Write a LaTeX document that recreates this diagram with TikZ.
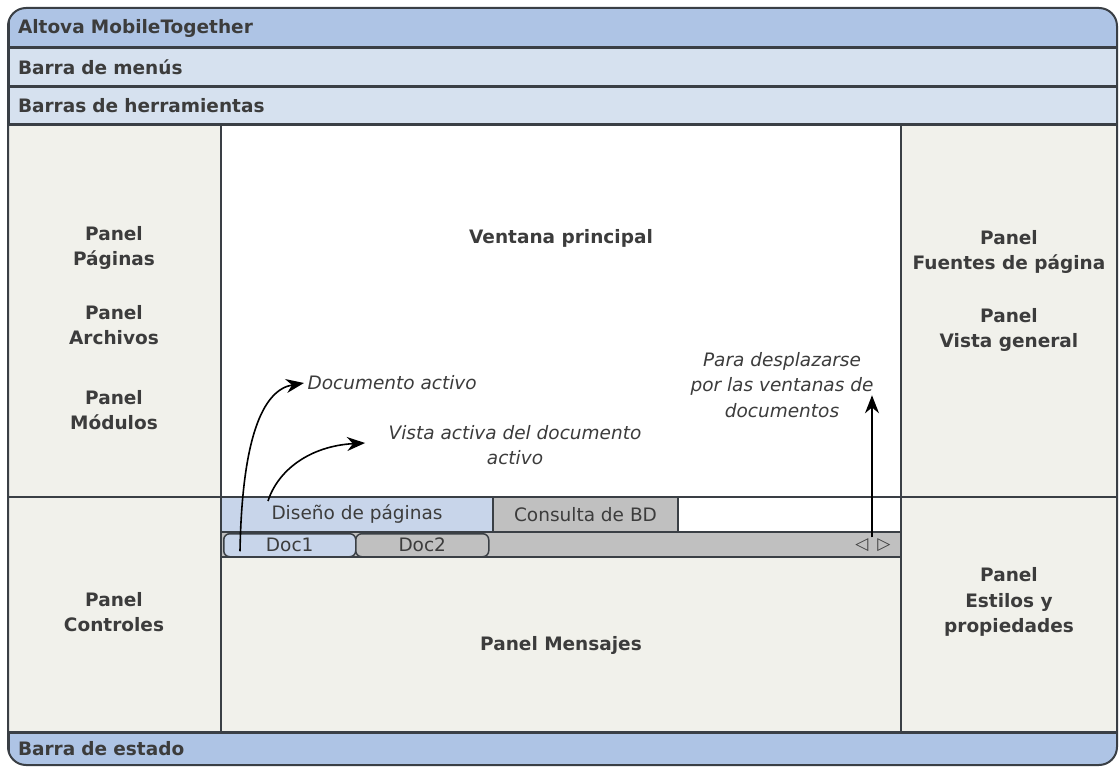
\documentclass[tikz,border=0pt]{standalone}
\usepackage{fontspec}
\setmainfont{DejaVu Sans}
\usetikzlibrary{arrows.meta, positioning, calc}

\definecolor{azul}{HTML}{AEC4E5}
\definecolor{azulclaro}{HTML}{D6E1EF}
\definecolor{pestana}{HTML}{C8D5EA}
\definecolor{gris}{HTML}{C0C0C0}
\definecolor{fondopanel}{HTML}{F1F1EB}
\definecolor{borde}{HTML}{3A3F45}
\definecolor{texto}{HTML}{3C3C3C}

\begin{document}
\begin{tikzpicture}[
		x=1pt, y=-1pt,
		every node/.style={font=\fontsize{18.5}{25.5}\selectfont, text=texto},
		zona/.style={draw=borde, line width=1.5pt, anchor=north west, inner sep=0pt, outer sep=0pt},
		barra/.style={zona, line width=3pt, text width=1089pt, inner xsep=10pt, align=left, minimum width=1109pt, font=\bfseries\fontsize{18.5}{25.5}\selectfont},
		etiq/.style={font=\bfseries\fontsize{18.5}{25.5}\selectfont, align=center},
		nota/.style={font=\itshape\fontsize{18.5}{25.5}\selectfont, align=center},
		tab/.style={zona, minimum height=35pt},
		doctab/.style={draw=borde, line width=1.5pt, rounded corners=6pt, anchor=north west, inner sep=0pt, minimum height=23pt},
		arrow/.style={line width=1.6pt, -{Stealth[length=18pt, width=14pt, fill=black]}, draw=black}
		]
		\useasboundingbox (0,0) rectangle (1120,767);
		
		% Barras y paneles
		\begin{scope}
			\clip[rounded corners=18pt] (8,8) rectangle (1117,765);
			\node[zona, fill=fondopanel, minimum width=213pt, minimum height=372pt] (izq) at (8,125) {};
			\node[zona, fill=fondopanel, minimum width=213pt, minimum height=235pt] (izqinf) at (8,497) {};
			\node[zona, fill=white, minimum width=680pt, minimum height=372pt] (principal) at (221,125) {};
			\node[zona, fill=fondopanel, minimum width=216pt, minimum height=372pt] (der) at (901,125) {};
			\node[zona, fill=fondopanel, minimum width=216pt, minimum height=235pt] (derinf) at (901,497) {};
			\node[zona, fill=fondopanel, minimum width=680pt, minimum height=175pt] (mensajes) at (221,557) {};
			\node[barra, fill=azul, minimum height=40pt] (titulo) at (8,8) {Altova MobileTogether};
			\node[barra, fill=azulclaro, minimum height=39pt] (menus) at (8,48) {Barra de menús};
			\node[barra, fill=azulclaro, minimum height=38pt] (herramientas) at (8,87) {Barras de herramientas};
			\node[barra, fill=azul, minimum height=33pt] (estado) at (8,732) {Barra de estado};
		\end{scope}
		\draw[borde, line width=2pt, rounded corners=18pt] (8,8) rectangle (1117,765);
		
		% Pestanas
		\node[tab, fill=pestana, minimum width=272pt] (diseno) at (221,497) {Diseño de páginas};
		\node[tab, fill=gris, minimum width=185pt] (consulta) at (493,497) {Consulta de BD};
		\node[tab, fill=white, minimum width=223pt] (vacio) at (678,497) {};
		\node[zona, fill=gris, minimum width=680pt, minimum height=25pt] (docs) at (221,532) {};
		\node[doctab, fill=pestana, minimum width=132pt] (doc1) at (223,533) {Doc1};
		\node[doctab, fill=gris, minimum width=133pt] (doc2) at (355,533) {Doc2};
		\node[font=\fontsize{17}{17}\selectfont, inner sep=1pt] (scroll) at (873,545) {◁\hspace{9pt}▷};
		
		% Textos
		\node[etiq] (ventana) at (561,238) {Ventana principal};
		\node[etiq] (paginas) at (114,248) {Panel\\Páginas};
		\node[etiq] (archivos) at (114,325) {Panel\\Archivos};
		\node[etiq] (modulos) at (114,410) {Panel\\Módulos};
		\node[etiq] (controles) at (114,612) {Panel\\Controles};
		\node[etiq] (fuentes) at (1009,252) {Panel\\Fuentes de página};
		\node[etiq] (vistagen) at (1009,330) {Panel\\Vista general};
		\node[etiq] (estilos) at (1009,602) {Panel\\Estilos y\\propiedades};
		\node[etiq] (panelmsj) at (561,645) {Panel Mensajes};
		\node[nota, anchor=west] (docactivo) at (304,383) {Documento activo};
		\node[nota] (vista) at (515,445) {Vista activa del documento\\activo};
		\node[nota] (desplazar) at (782,385) {Para desplazarse\\por las ventanas de\\documentos};
		
		% Flechas
		\coordinate (ini1) at ($(doc1.west)+(17,6)$);
		\coordinate (ini2) at ($(diseno.north west)+(47,4)$);
		\coordinate (fin2) at ($(vista.west)+(-20,-2)$);
		\coordinate (fin3) at ($(scroll.north)+(-1,-142)$);
		\draw[arrow] (ini1) .. controls (242,440) and (262,390) .. (docactivo.west);
		\draw[arrow] (ini2) .. controls (278,470) and (310,446) .. (fin2);
		\draw[arrow] (scroll.north) ++(-1,0) -- (fin3);
	\end{tikzpicture}
\end{document}
